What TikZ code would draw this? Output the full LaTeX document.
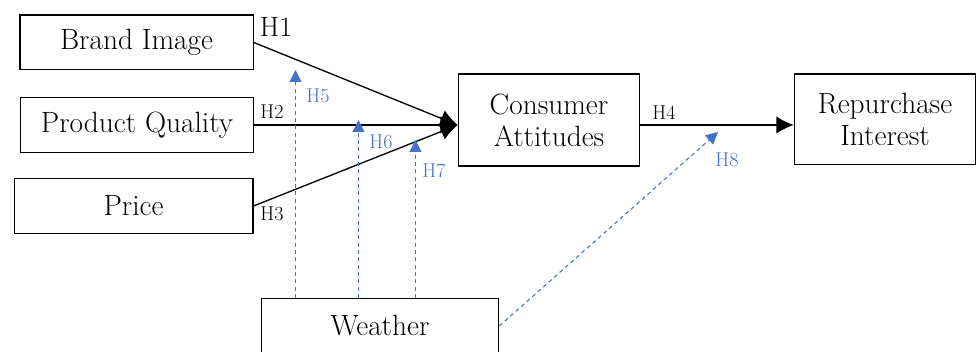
\documentclass[tikz,border=0pt]{standalone}
\usepackage{tikz}
\usetikzlibrary{arrows.meta}
\definecolor{hblue}{RGB}{68, 114, 196}

\begin{document}
\begin{tikzpicture}[x=0.75pt, y=-0.75pt, line width=1pt,
    var/.style={draw, line width=1pt, minimum height=41pt, inner sep=0pt,
      align=center, font=\fontsize{22}{24}\selectfont},
    path/.style={-{Latex[length=13pt, width=13pt]}},
    moder/.style={hblue, line width=0.8pt, dash pattern=on 3pt off 2.5pt,
      -{Triangle[length=9pt, width=9pt]}},
    hlab/.style={font=\fontsize{15}{17}\selectfont},
    blab/.style={hblue, font=\fontsize{15}{17}\selectfont}]
  \useasboundingbox (0, 0) rectangle (976, 352);

  \node[var, minimum width=175pt] (brand) at (136.5, 42.5) {Brand Image};
  \node[var, minimum width=175pt] (quality) at (137, 125) {Product Quality};
  \node[var, minimum width=179pt] (price) at (133.5, 206) {Price};
  \node[var, minimum width=136pt, minimum height=69pt] (attitude) at (549, 120) {Consumer\\Attitudes};
  \node[var, minimum width=136pt, minimum height=68pt] (interest) at (885, 119.5) {Repurchase\\Interest};
  \node[var, minimum width=178pt] (weather) at (380, 326) {Weather};

  % direct paths
  \coordinate (tip) at (attitude.west |- quality.east);
  \draw[path] (brand.east) -- (tip);
  \draw[path] (quality.east) -- (tip);
  \draw[path] (price.east) -- (tip);
  \draw[path] (attitude.east |- quality.east) -- (interest.west |- quality.east);

  \node[font=\fontsize{21}{23}\selectfont] (h1) at (276, 27) {H1};
  \node[hlab] (h2) at (272, 112) {H2};
  \node[hlab] (h3) at (272, 214) {H3};
  \node[hlab] (h4) at (664, 113) {H4};

  % moderating paths
  \coordinate (t5) at (295.5, 70);
  \coordinate (t6) at (358.5, 120);
  \coordinate (t7) at (415.5, 140);
  \coordinate (t8) at (718, 132);
  \draw[moder] (t5 |- weather.north) -- (t5);
  \draw[moder] (t6 |- weather.north) -- (t6);
  \draw[moder] (t7 |- weather.north) -- (t7);
  \draw[moder] (weather.east) -- (t8);

  \node[blab] (h5) at (318, 96) {H5};
  \node[blab] (h6) at (381, 142) {H6};
  \node[blab] (h7) at (434, 171) {H7};
  \node[blab] (h8) at (727, 160) {H8};
\end{tikzpicture}
\end{document}
